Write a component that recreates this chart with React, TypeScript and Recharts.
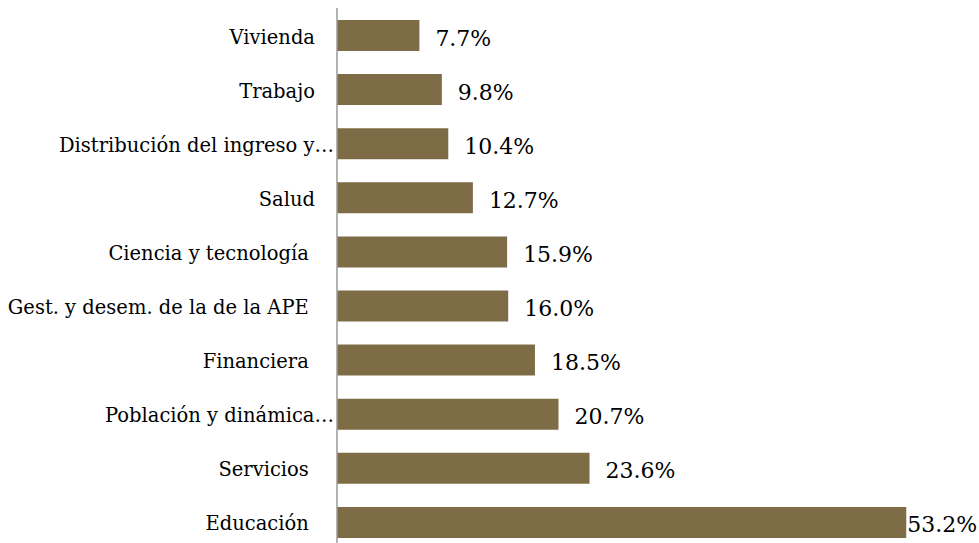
import React from 'react';
import { BarChart, Bar, XAxis, YAxis, LabelList } from 'recharts';

const categories = [
  'Vivienda',
  'Trabajo',
  'Distribución del ingreso y…',
  'Salud',
  'Ciencia y tecnología ',
  'Gest. y desem. de la de la APE ',
  'Financiera ',
  'Población y dinámica…',
  'Servicios ',
  'Educación ',
];
const values = [7.7, 9.8, 10.4, 12.7, 15.9, 16.0, 18.5, 20.7, 23.6, 53.2];

const data = categories.map((name, i) => ({ name, value: values[i] }));

const serif = '"DejaVu Serif", "Liberation Serif", serif';

const CategoryTick = (props: any) => {
  const { y, payload } = props;
  const label: string = payload.value;
  const endX = label.endsWith('…') ? 334 : 315;
  return (
    <text
      x={endX}
      y={y + 8.5}
      textAnchor="end"
      fontFamily={serif}
      fontSize={19.5}
      fill="#000"
      style={{ whiteSpace: 'pre' }}
    >
      {label}
    </text>
  );
};

const ValueLabel = (props: any) => {
  const { x, y, width, height, value } = props;
  const text = `${Number(value).toFixed(1)}%`;
  const end = x + width;
  // no room on the right for the last bar: the label hugs the bar end
  const fits = end + 15 + 72 < 979;
  return (
    <text
      x={fits ? end + 16 : end + 1}
      y={y + height / 2 + 10}
      textAnchor="start"
      fontFamily={serif}
      fontSize={22}
      fill="#000"
    >
      {text}
    </text>
  );
};

export default function App() {
  return (
    <div style={{ position: 'fixed', top: 0, left: 0, width: 979, height: 543, overflow: 'hidden', background: '#fff' }}>
      <BarChart
        width={979}
        height={549}
        data={data}
        layout="vertical"
        margin={{ top: 8, right: 0, bottom: 0, left: 0 }}
        barSize={31}
      >
        <XAxis type="number" domain={[0, 60]} hide />
        <YAxis
          type="category"
          dataKey="name"
          width={337}
          axisLine={{ stroke: '#9a9a9a', strokeWidth: 1.5 }}
          tickLine={false}
          tick={<CategoryTick />}
          interval={0}
        />
        <Bar dataKey="value" fill="#7e6c46" isAnimationActive={false}>
          <LabelList dataKey="value" content={<ValueLabel />} />
        </Bar>
      </BarChart>
    </div>
  );
}
